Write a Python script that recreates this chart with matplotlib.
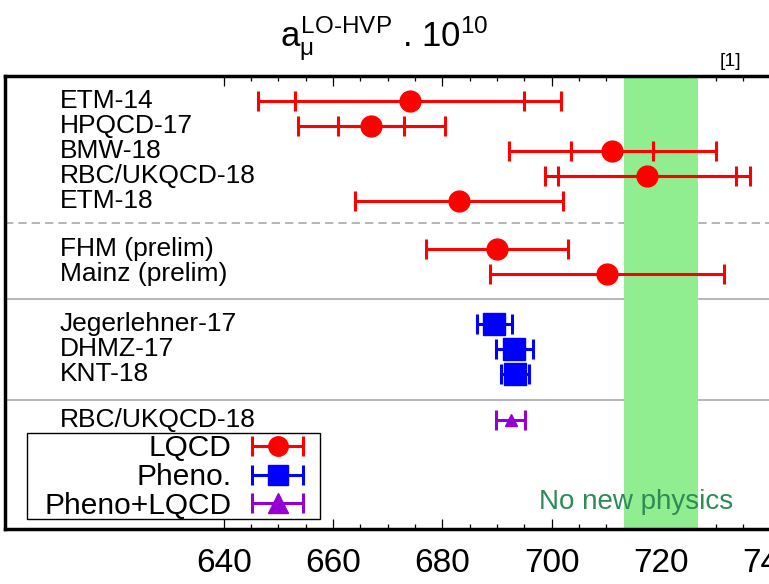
import matplotlib
matplotlib.use("Agg")
import matplotlib.pyplot as plt
from matplotlib.container import ErrorbarContainer
from matplotlib.legend_handler import HandlerErrorbar
from matplotlib.patches import Rectangle
import numpy as np

plt.rcParams["font.family"] = ["Liberation Sans", "DejaVu Sans"]
plt.rcParams["mathtext.fontset"] = "custom"
plt.rcParams["mathtext.rm"] = "Liberation Sans"
plt.rcParams["mathtext.it"] = "Liberation Sans"
plt.rcParams["mathtext.bf"] = "Liberation Sans:bold"

# ===== DATA =====
lqcd_names = ["ETM-14", "HPQCD-17", "BMW-18", "RBC/UKQCD-18", "ETM-18",
              "FHM (prelim)", "Mainz (prelim)"]
lqcd_rows = [0, 1, 2, 3, 4, 5.9, 6.9]
lqcd_vals = [674.0, 667.0, 711.1, 717.5, 683.0, 690.0, 710.2]
lqcd_err = [27.7, 13.4, 18.9, 18.7, 19.0, 13.0, 21.4]
# inner (statistical) error only where the reference shows a second cap
lqcd_inner_idx = [0, 1, 2, 3]
lqcd_inner_err = [21.0, 6.0, 7.5, 16.3]

pheno_names = ["Jegerlehner-17", "DHMZ-17", "KNT-18"]
pheno_rows = [8.9, 9.9, 10.9]
pheno_vals = [689.5, 693.2, 693.3]
pheno_err = [3.25, 3.4, 2.5]

comb_names = ["RBC/UKQCD-18"]
comb_rows = [12.7]
comb_vals = [692.5]
comb_err = [2.7]

sep_dashed = [4.87]
sep_solid = [7.9, 11.9]

band_lo, band_hi = 713.2, 726.8

RED = "#ff0000"
BLUE = "#0000ff"
VIOLET = "#9400d3"

# ===== FIGURE =====
fig = plt.figure(figsize=(7.69, 5.84), dpi=100)
ax = fig.add_axes([5 / 769, 55 / 584, 820 / 769, 453 / 584])
ax.set_xlim(600, 750)
ax.set_ylim(17.05, -0.98)

for y in sep_dashed:
    ax.axhline(y, color="#aaaaaa", lw=1.2, ls=(0, (5, 3)), zorder=1)
for y in sep_solid:
    ax.axhline(y, color="#aaaaaa", lw=1.2, zorder=1)

ax.axvspan(band_lo, band_hi, color="#90ee90", lw=0, zorder=2)

eb = dict(lw=2.2, capsize=7.5, capthick=2.2, zorder=3)

ax.errorbar(lqcd_vals, lqcd_rows, xerr=lqcd_err, fmt="o", color=RED, ms=15, **eb)
ax.errorbar([lqcd_vals[i] for i in lqcd_inner_idx], [lqcd_rows[i] for i in lqcd_inner_idx],
            xerr=lqcd_inner_err, fmt="none", ecolor=RED, **eb)
ax.errorbar(pheno_vals, pheno_rows, xerr=pheno_err, fmt="s", color=BLUE, ms=16, **eb)
ax.errorbar(comb_vals, comb_rows, xerr=comb_err, fmt="^", color=VIOLET, ms=9, **eb)

# row labels
for names, rows in [(lqcd_names, lqcd_rows), (pheno_names, pheno_rows), (comb_names, comb_rows)]:
    for n, r in zip(names, rows):
        ax.text(610, r, n, fontsize=19, ha="left", va="center", zorder=4)

ax.text(715.5, 15.97, "No new physics", color="#2e8b57", fontsize=20,
        ha="center", va="center", zorder=4)

# ===== LEGEND =====
# box drawn by hand so its size can follow the reference
box = Rectangle((22 / 820, 10 / 453), 293 / 820, 86 / 453, transform=ax.transAxes,
                facecolor="white", edgecolor="black", lw=1.0, zorder=5)
ax.add_patch(box)

h1 = ax.errorbar([np.nan], [np.nan], xerr=[1], fmt="o", color=RED, ms=14, **eb)
h2 = ax.errorbar([np.nan], [np.nan], xerr=[1], fmt="s", color=BLUE, ms=15, **eb)
h3 = ax.errorbar([np.nan], [np.nan], xerr=[1], fmt="^", color=VIOLET, ms=14, **eb)
leg = ax.legend([h1, h2, h3], ["LQCD", "Pheno.", "Pheno+LQCD"], loc="center right",
                bbox_to_anchor=(298 / 820, 52 / 453), borderaxespad=0, borderpad=0,
                fontsize=21.5, markerfirst=False, handlelength=1.7, handletextpad=0.7,
                labelspacing=0.02, frameon=False,
                handler_map={ErrorbarContainer: HandlerErrorbar(xerr_size=0.85)})
leg.set_zorder(6)
for t in leg.get_texts():
    t.set_ha("right")
leg._legend_box.align = "right"

# ===== AXES =====
ax.set_yticks([])
ax.set_xticks(np.arange(640, 751, 20))
ax.set_xticks(np.arange(640, 751, 5), minor=True)
ax.tick_params(axis="x", which="both", direction="in", top=True, bottom=True,
               width=0.9, labelsize=24, pad=13.5)
ax.tick_params(axis="x", which="major", length=7)
ax.tick_params(axis="x", which="minor", length=3.5)
ax.set_xticklabels([str(v) for v in range(640, 751, 20)])
for s in ax.spines.values():
    s.set_linewidth(2.5)

fig.text(0.5, 1 - 47 / 584, r"$a_{\mu}^{LO\text{-}HVP}$ . 10$^{10}$", fontsize=25,
         ha="center", va="baseline")
fig.text(730 / 769, 1 - 62 / 584, "[1]", fontsize=14, ha="center", va="center")

fig.savefig("out.png", dpi=100)
